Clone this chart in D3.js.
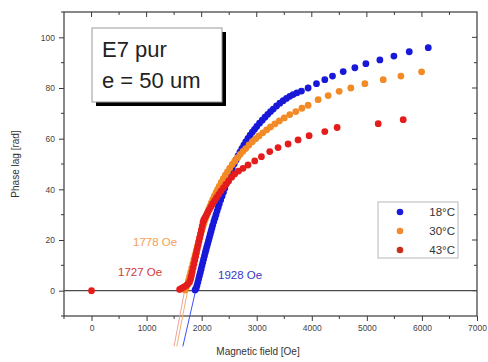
<!DOCTYPE html>
<html><head><meta charset="utf-8">
<script src="https://cdn.jsdelivr.net/npm/d3@7"></script>
<style>body{margin:0;background:#fff}svg{display:block}text{font-family:Arial,"Liberation Sans",sans-serif}</style>
</head><body><svg id="c" width="488" height="362"></svg>
<script>
// ---- data ----
const seriesNames = ["18°C", "30°C", "43°C"];
const seriesColors = ["#1818d8", "#f28a26", "#e41c1c"];
const xTicks = [0, 1000, 2000, 3000, 4000, 5000, 6000, 7000];
const yTicks = [0, 20, 40, 60, 80, 100];

const blueX = [1880,1900,1915,1930,1945,1960,1975,1990,2005,2020,2035,2050,2065,2080,2095,2110,2125,2140,2155,2170,2185,2200,2220,2240,2260,2280,2300,2320,2345,2370,2395,2420,2450,2485,2520,2555,2590,2625,2660,2695,2730,2765,2800,2840,2880,2920,2960,3000,3050,3100,3150,3200,3250,3300,3360,3420,3480,3540,3600,3660,3730,3812,3933,4085,4236,4376,4570,4782,4982,5236,5491,5770,6115];
const blueY = [0.3,1,2,3.3,4.6,5.9,7.2,8.5,9.8,11.1,12.4,13.7,15,16.2,17.4,18.6,19.8,21,22.2,23.4,24.6,25.8,27.2,28.6,30,31.4,32.8,34.2,35.8,37.3,38.8,40.4,42.3,44.4,46.4,48.2,50,51.6,53.2,54.7,56.1,57.4,58.7,60.1,61.4,62.6,63.7,64.8,66.1,67.3,68.5,69.6,70.7,71.7,72.9,74,75,75.9,76.7,77.4,78.1,78.8,80,81.7,83.3,84.7,86.5,88,89.6,91.1,92.6,94.3,95.9];

const orangeX = [1700,1720,1740,1760,1780,1800,1820,1840,1860,1880,1900,1920,1940,1960,1980,2000,2020,2040,2060,2080,2100,2125,2150,2175,2200,2230,2260,2290,2320,2355,2390,2430,2470,2510,2555,2600,2650,2700,2750,2800,2860,2920,2980,3040,3110,3180,3250,3330,3410,3500,3600,3710,3820,3933,4115,4297,4497,4709,4964,5297,5618,5994];
const orangeY = [0.3,1.3,2.5,4,5.6,7.3,9,10.7,12.4,14.1,15.8,17.4,19,20.6,22.1,23.6,25,26.4,27.8,29.1,30.4,31.9,33.3,34.6,35.9,37.3,38.7,40,41.3,42.7,44.1,45.6,47,48.4,49.8,51.1,52.5,53.8,55,56.1,57.5,58.8,60,61.1,62.3,63.5,64.6,65.8,67,68.2,69.5,70.7,72,73.2,75.4,77,78.7,80,81.7,83.3,84.7,86.4];

const redX = [0,1600,1640,1680,1720,1750,1780,1800,1815,1830,1845,1860,1875,1890,1905,1920,1935,1950,1965,1980,1995,2010,2025,2040,2060,2085,2110,2140,2170,2200,2235,2270,2310,2350,2395,2440,2490,2545,2600,2670,2751,2842,2964,3085,3236,3387,3569,3751,3951,4236,4460,5206,5660];
const redY = [0,0.5,1,1.5,2,2.6,3.4,4.6,6,7.5,9,10.5,12,13.5,15,16.5,18,19.5,21,22.5,24,25.5,27,28,28.8,29.8,30.9,32,33.2,34.3,35.5,36.7,38,39.3,40.6,41.9,43.3,44.8,46.1,47.2,48.3,49.6,51.2,52.9,54.9,56.5,57.9,59.5,61.2,62.8,64.4,65.9,67.5];

// onset tangent lines: [x at zero crossing, slope per Oe]
const onsetLabels = ["1928 Oe", "1778 Oe", "1727 Oe"];
const onsetX = [1890, 1745, 1690];
const onsetSlope = [0.095, 0.112, 0.115];

// ---- layout ----
const svg = d3.select("#c");
const x = d3.scaleLinear().domain([-500, 7000]).range([64, 477]);
const y = d3.scaleLinear().domain([-10, 110]).range([316, 12]);
const L = 64, R = 477, T = 12, B = 316;
const axisCol = "#3a3a3a";

// frame
svg.append("rect").attr("x", L).attr("y", T).attr("width", R - L).attr("height", B - T)
  .attr("fill", "none").attr("stroke", axisCol).attr("stroke-width", 1.2);

// axes
const minorX = d3.range(-500, 7001, 500);
const minorY = d3.range(-10, 111, 10);
const bottom = svg.append("g").attr("transform", `translate(0,${B})`)
  .call(d3.axisBottom(x).tickValues(xTicks).tickFormat(d3.format("d")).tickSize(5).tickPadding(4));
const left = svg.append("g").attr("transform", `translate(${L},0)`)
  .call(d3.axisLeft(y).tickValues(yTicks).tickSize(5).tickPadding(4));
[bottom, left].forEach(g => {
  g.select(".domain").remove();
  g.selectAll("line").attr("stroke", axisCol);
  g.selectAll("text").attr("font-size", 8.5).attr("fill", "#444");
});
// minor ticks
svg.append("g").selectAll("line").data(minorX.filter(v => !xTicks.includes(v))).join("line")
  .attr("x1", d => x(d)).attr("x2", d => x(d)).attr("y1", B).attr("y2", B + 3).attr("stroke", axisCol);
svg.append("g").selectAll("line").data(minorY.filter(v => !yTicks.includes(v))).join("line")
  .attr("x1", L - 3).attr("x2", L).attr("y1", d => y(d)).attr("y2", d => y(d)).attr("stroke", axisCol);
// mirrored inward ticks top/right
svg.append("g").selectAll("line").data(minorX.filter(v => v > -500 && v < 7000)).join("line")
  .attr("x1", d => x(d)).attr("x2", d => x(d)).attr("y1", T).attr("y2", d => T + (d % 1000 === 0 ? 5 : 3)).attr("stroke", axisCol);
svg.append("g").selectAll("line").data(minorY.filter(v => v > -10 && v < 110)).join("line")
  .attr("x1", d => R - (d % 20 === 0 ? 5 : 3)).attr("x2", R).attr("y1", d => y(d)).attr("y2", d => y(d)).attr("stroke", axisCol);

// zero line
svg.append("line").attr("x1", L).attr("x2", R).attr("y1", y(0)).attr("y2", y(0))
  .attr("stroke", "#4a4a4a").attr("stroke-width", 1.3);

// axis titles
svg.append("text").attr("x", 258).attr("y", 355).attr("text-anchor", "middle")
  .attr("font-size", 10).attr("fill", "#333").text("Magnetic field [Oe]");
svg.append("text").attr("transform", "translate(19,164) rotate(-90)").attr("text-anchor", "middle")
  .attr("font-size", 10).attr("fill", "#333").text("Phase lag [rad]");

// tangent lines
const lineCols = ["#3c50ff", "#f4b070", "#f2a0a0"];
onsetX.forEach((x0, i) => {
  const y1 = -22, y2 = 6;
  svg.append("line")
    .attr("x1", x(x0 + y1 / onsetSlope[i])).attr("y1", y(y1))
    .attr("x2", x(x0 + y2 / onsetSlope[i])).attr("y2", y(y2))
    .attr("stroke", lineCols[i]).attr("stroke-width", 1);
});

// series
const sets = [[blueX, blueY], [orangeX, orangeY], [redX, redY]];
sets.forEach(([xs, ys], i) => {
  svg.append("g").selectAll("circle").data(xs.map((v, k) => [v, ys[k]])).join("circle")
    .attr("cx", d => x(d[0])).attr("cy", d => y(d[1])).attr("r", 3.4)
    .attr("fill", seriesColors[i]);
});

// onset labels
const lblCols = ["#3838c8", "#f2a050", "#d03838"];
const lblPos = [[218, 279], [133, 246], [118, 276]];
onsetLabels.forEach((t, i) => {
  svg.append("text").attr("x", lblPos[i][0]).attr("y", lblPos[i][1]).attr("font-size", 11.5)
    .attr("fill", lblCols[i]).text(t);
});

// title box
svg.append("rect").attr("x", 96).attr("y", 32).attr("width", 130).attr("height", 74).attr("fill", "#000");
svg.append("rect").attr("x", 92).attr("y", 28).attr("width", 130).attr("height", 74)
  .attr("fill", "#fff").attr("stroke", "#999").attr("stroke-width", 1);
svg.append("text").attr("x", 102).attr("y", 57).attr("font-size", 22).attr("fill", "#222").text("E7 pur");
svg.append("text").attr("x", 102).attr("y", 88).attr("font-size", 22).attr("fill", "#222").text("e = 50 um");

// legend
svg.append("rect").attr("x", 378).attr("y", 202).attr("width", 80).attr("height", 56)
  .attr("fill", "#fff").attr("stroke", "#c4c4c4").attr("stroke-width", 1.2);
const legCols = ["#1a1ad8", "#f08a30", "#c8301c"];
seriesNames.forEach((n, i) => {
  const yy = 212 + i * 19;
  svg.append("circle").attr("cx", 400).attr("cy", yy).attr("r", 3.3).attr("fill", legCols[i]);
  svg.append("text").attr("x", 455).attr("y", yy + 4).attr("text-anchor", "end")
    .attr("font-size", 11.5).attr("fill", "#333").text(n);
});
</script></body></html>
